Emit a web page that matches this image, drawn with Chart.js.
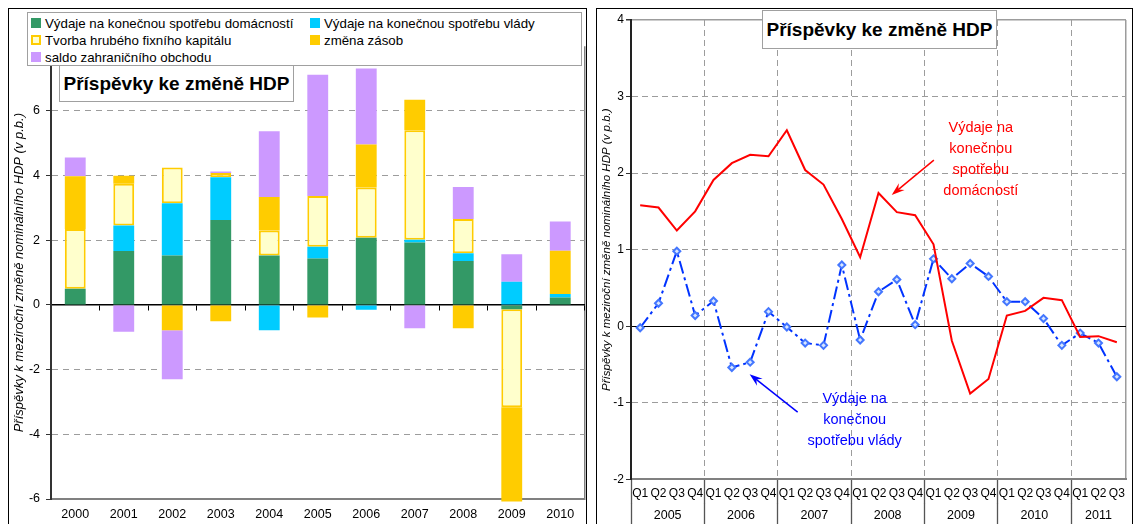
<!DOCTYPE html>
<html>
<head>
<meta charset="utf-8">
<script src="https://cdn.jsdelivr.net/npm/chart.js@4.4.1/dist/chart.umd.min.js"></script>
<style>
  html, body { margin: 0; padding: 0; background: #fff; overflow: hidden; }
  body { width: 1134px; height: 524px; position: relative; font-family: 'Liberation Sans', Arial, sans-serif; }
  .panel { position: absolute; border: 1px solid #000; box-sizing: border-box; background: #fff; }
  #leftPanel { left: 8px; top: 8px; width: 579px; height: 540px; }
  #rightPanel { left: 596px; top: 8px; width: 537px; height: 540px; }
  .panel canvas { position: absolute; left: 0; top: 0; }
  .box { position: absolute; border: 1px solid #a0a0a0; background: #fff; box-sizing: border-box; z-index: 2; }
  #legend { left: 27px; top: 12px; width: 555px; height: 54px; font-size: 13.3px; color: #000; }
  #legend .item { position: absolute; height: 17px; line-height: 17px; white-space: nowrap; }
  #legend .swatch { position: absolute; left: 0; top: 3px; width: 10px; height: 10px; box-sizing: border-box; }
  #legend .text { position: absolute; left: 14px; top: 0; }
  .titleBox { font-weight: bold; font-size: 19px; color: #000; display: flex; align-items: center; justify-content: center; }
  #leftTitle { left: 59px; top: 65px; width: 235px; height: 37px; }
  #rightTitle { left: 762px; top: 10px; width: 235px; height: 39px; }
</style>
</head>
<body>
<div class="panel" id="leftPanel"><canvas id="leftChart" width="577" height="530"></canvas></div>
<div class="panel" id="rightPanel"><canvas id="rightChart" width="535" height="530"></canvas></div>
<div class="box" id="legend"></div>
<div class="box titleBox" id="leftTitle">Příspěvky ke změně HDP</div>
<div class="box titleBox" id="rightTitle">Příspěvky ke změně HDP</div>
<script>
// left chart - annual contributions (p.b.)
const years = ['2000', '2001', '2002', '2003', '2004', '2005', '2006', '2007', '2008', '2009', '2010'];
const householdContrib = [0.50, 1.67, 1.53, 2.63, 1.53, 1.44, 2.08, 1.93, 1.36, -0.13, 0.23];
const governmentContrib = [0.00, 0.79, 1.62, 1.32, -0.78, 0.36, -0.15, 0.09, 0.24, 0.72, 0.11];
const fixedCapitalContrib = [1.85, 1.29, 1.10, 0.13, 0.77, 1.57, 1.55, 3.38, 1.06, -3.03, 0.00];
const inventoryContrib = [1.63, 0.25, -0.78, -0.50, 1.04, -0.39, 1.33, 0.95, -0.72, -2.92, 1.34];
const tradeContrib = [0.58, -0.83, -1.52, 0.05, 2.03, 3.75, 2.35, -0.72, 0.99, 0.85, 0.90];

// right chart - quarterly contributions
const yearNames = ['2005', '2006', '2007', '2008', '2009', '2010', '2011'];
const quartersPerYear = [4, 4, 4, 4, 4, 4, 3];
const quarterNames = ['Q1', 'Q2', 'Q3', 'Q4'];
const householdQuarterly = [1.58, 1.55, 1.25, 1.50, 1.91, 2.13, 2.24, 2.22, 2.56, 2.04, 1.85, 1.40,
    0.90, 1.74, 1.49, 1.45, 1.07, -0.19, -0.88, -0.69, 0.14, 0.20, 0.37, 0.34, -0.14, -0.13, -0.21];
const governmentQuarterly = [-0.02, 0.30, 0.98, 0.14, 0.33, -0.54, -0.47, 0.19, -0.01, -0.22, -0.25, 0.80,
    -0.18, 0.45, 0.61, 0.02, 0.88, 0.62, 0.82, 0.65, 0.32, 0.32, 0.10, -0.25, -0.09, -0.22, -0.66];

const axisTitle = 'Příspěvky k meziroční změně nominálního HDP (v p.b.)';
const NONE = 'rgba(0,0,0,0)';
const GRID = '#9c9c9c';

Chart.defaults.font.family = "'Liberation Sans', Arial, sans-serif";
Chart.defaults.color = '#000';

// ---------- left chart ----------
const barDatasets = [
    {label: 'Výdaje na konečnou spotřebu domácností', data: householdContrib, backgroundColor: '#339966', borderColor: '#339966', borderWidth: 0},
    {label: 'Výdaje na konečnou spotřebu vlády', data: governmentContrib, backgroundColor: '#00CCFF', borderColor: '#00CCFF', borderWidth: 0},
    {label: 'Tvorba hrubého fixního kapitálu', data: fixedCapitalContrib, backgroundColor: '#FFFFCC', borderColor: '#FFCC00', borderWidth: 2, borderSkipped: false},
    {label: 'změna zásob', data: inventoryContrib, backgroundColor: '#FFCC00', borderColor: '#FFCC00', borderWidth: 0},
    {label: 'saldo zahraničního obchodu', data: tradeContrib, backgroundColor: '#CC99FF', borderColor: '#CC99FF', borderWidth: 0}
];

const leftChart = new Chart(document.getElementById('leftChart'), {
    type: 'bar',
    data: {labels: years, datasets: barDatasets},
    options: {
        responsive: false,
        animation: false,
        layout: {padding: {left: 0, top: 37.3, right: 1.5, bottom: 0}},
        plugins: {legend: {display: false}, tooltip: {enabled: false}},
        datasets: {bar: {barPercentage: 0.43, categoryPercentage: 1, clip: 4}},
        scales: {
            x: {
                stacked: true,
                weight: 1,
                grid: {
                    drawTicks: false,
                    color: ctx => ctx.index === undefined ? '#808080' : NONE,
                    lineWidth: 1.5
                },
                border: {color: '#808080', width: 2},
                ticks: {padding: 8.5, font: {size: 12.5}, maxRotation: 0, autoSkip: false},
                afterFit: scale => { scale.height = 40; }
            },
            x2: {
                type: 'category',
                axis: 'x',
                position: {y: 0},
                offset: true,
                grid: {offset: true, drawOnChartArea: false, drawTicks: true, tickLength: 5, color: '#000'},
                border: {color: '#000', width: 1.5},
                ticks: {display: false}
            },
            y: {
                stacked: true,
                min: -6,
                max: 8,
                ticks: {stepSize: 2, padding: 6, font: {size: 12.5}, callback: v => v === 8 ? '' : v},
                grid: {
                    color: ctx => (ctx.tick && [0, -6, 8].indexOf(ctx.tick.value) < 0) ? GRID : NONE,
                    tickLength: 5,
                    tickColor: '#333'
                },
                border: {color: '#333', width: 2, dash: [6, 5]},
                title: {display: true, text: axisTitle, font: {size: 13, style: 'italic'}, padding: {top: 3, bottom: 0}},
                afterFit: scale => { scale.width = 42; }
            }
        }
    }
});

// legend in two columns, built from the datasets
const legendBox = document.getElementById('legend');
barDatasets.forEach((ds, i) => {
    const item = document.createElement('div');
    item.className = 'item';
    item.style.left = (i % 2 === 0 ? 3 : 282) + 'px';
    item.style.top = (1.5 + Math.floor(i / 2) * 17) + 'px';
    const sw = document.createElement('span');
    sw.className = 'swatch';
    sw.style.background = ds.backgroundColor;
    sw.style.border = ds.borderWidth ? '2px solid ' + ds.borderColor : '1px solid ' + ds.backgroundColor;
    const tx = document.createElement('span');
    tx.className = 'text';
    tx.textContent = ds.label;
    item.appendChild(sw);
    item.appendChild(tx);
    legendBox.appendChild(item);
});

// ---------- right chart ----------
const quarterLabels = [];
const yearBoundaries = [0];
const yearCenters = [];
quartersPerYear.forEach((n, yi) => {
    for (let q = 0; q < n; q++) quarterLabels.push(quarterNames[q]);
    const start = yearBoundaries[yearBoundaries.length - 1];
    yearCenters.push(start + n / 2);
    yearBoundaries.push(start + n);
});
const yearTickValues = yearBoundaries.concat(yearCenters).sort((a, b) => a - b);

const annotations = [
    {lines: ['Výdaje na', 'konečnou', 'spotřebu', 'domácností'], color: '#FF0000', x: 18.58, y: 2.59, from: [16.02, 2.17], to: [13.72, 1.715]},
    {lines: ['Výdaje na', 'konečnou', 'spotřebu vlády'], color: '#0000FF', x: 11.7, y: -0.954, from: [8.59, -1.123], to: [5.97, -0.627]}
];

const annotationPlugin = {
    id: 'arrowNotes',
    afterDatasetsDraw(chart) {
        const {ctx, scales} = chart;
        ctx.save();
        annotations.forEach(a => {
            ctx.fillStyle = a.color;
            ctx.strokeStyle = a.color;
            ctx.font = "14.5px 'Liberation Sans', Arial, sans-serif";
            ctx.textAlign = 'center';
            ctx.textBaseline = 'middle';
            const tx = scales.x.getPixelForValue(a.x);
            const ty = scales.y.getPixelForValue(a.y);
            a.lines.forEach((line, i) => ctx.fillText(line, tx, ty + i * 21));
            const x1 = scales.x.getPixelForValue(a.from[0]), y1 = scales.y.getPixelForValue(a.from[1]);
            const x2 = scales.x.getPixelForValue(a.to[0]), y2 = scales.y.getPixelForValue(a.to[1]);
            const ang = Math.atan2(y2 - y1, x2 - x1);
            const len = 13, half = 4.5;
            ctx.lineWidth = 1.5;
            ctx.beginPath();
            ctx.moveTo(x1, y1);
            ctx.lineTo(x2 - Math.cos(ang) * 8, y2 - Math.sin(ang) * 8);
            ctx.stroke();
            const bx = x2 - Math.cos(ang) * len, by = y2 - Math.sin(ang) * len;
            const nx = x2 - Math.cos(ang) * len * 0.65, ny = y2 - Math.sin(ang) * len * 0.65;
            ctx.beginPath();
            ctx.moveTo(x2, y2);
            ctx.lineTo(bx + Math.sin(ang) * half, by - Math.cos(ang) * half);
            ctx.lineTo(nx, ny);
            ctx.lineTo(bx - Math.sin(ang) * half, by + Math.cos(ang) * half);
            ctx.closePath();
            ctx.fill();
        });
        ctx.restore();
    }
};

const rightChart = new Chart(document.getElementById('rightChart'), {
    type: 'line',
    data: {
        labels: quarterLabels,
        datasets: [
            {label: 'Výdaje na konečnou spotřebu domácností', data: householdQuarterly, borderColor: '#FF0000', borderWidth: 2, pointRadius: 0, tension: 0},
            {label: 'Výdaje na konečnou spotřebu vlády', data: governmentQuarterly, borderColor: '#0033FF', borderWidth: 2, borderDash: [13, 4, 3, 4],
                pointStyle: 'rectRot', pointRadius: 3.5, pointBackgroundColor: '#d8e6ff', pointBorderColor: '#4477FF', pointBorderWidth: 2}
        ]
    },
    options: {
        responsive: false,
        animation: false,
        layout: {padding: {left: 0, top: 11, right: 1.5, bottom: 0}},
        plugins: {legend: {display: false}, tooltip: {enabled: false}},
        scales: {
            x: {
                type: 'category',
                weight: 1,
                offset: true,
                grid: {
                    offset: true,
                    tickLength: 24,
                    color: ctx => ctx.index === undefined ? GRID : (ctx.index > 0 && yearBoundaries.indexOf(ctx.index) >= 0 ? GRID : NONE),
                    tickColor: ctx => (ctx.index !== undefined && yearBoundaries.indexOf(ctx.index) >= 0) ? '#555' : NONE,
                    lineWidth: ctx => ctx.index === undefined ? 1.5 : 1,
                    tickWidth: 1.3
                },
                border: {color: '#808080', width: 2, dash: ctx => ctx.index === undefined ? [] : [6, 4]},
                ticks: {padding: -16.8, font: {size: 12}, autoSkip: false, maxRotation: 0},
                afterFit: scale => { scale.height = 24; }
            },
            x2: {
                type: 'linear',
                axis: 'x',
                position: 'bottom',
                weight: 2,
                min: 0,
                max: quarterLabels.length,
                afterBuildTicks: scale => { scale.ticks = yearTickValues.map(v => ({value: v})); },
                ticks: {
                    autoSkip: false, maxRotation: 0, padding: -24.8, font: {size: 12.5},
                    callback: v => { const i = yearCenters.indexOf(v); return i >= 0 ? yearNames[i] : ''; }
                },
                grid: {
                    drawOnChartArea: false,
                    tickLength: 30,
                    color: ctx => (ctx.tick && yearBoundaries.indexOf(ctx.tick.value) >= 0 && ctx.tick.value < quarterLabels.length) ? '#555' : NONE,
                    tickWidth: 1.3
                },
                border: {display: false},
                afterFit: scale => { scale.height = 35.7; }
            },
            y: {
                min: -2,
                max: 4,
                ticks: {stepSize: 1, padding: 2, font: {size: 12}},
                grid: {
                    color: ctx => {
                        if (!ctx.tick) return NONE;
                        if (ctx.tick.value === 0) return '#000';
                        if (ctx.tick.value === -2) return NONE;
                        return GRID;
                    },
                    lineWidth: ctx => ctx.tick && ctx.tick.value === 4 ? 1.5 : 1,
                    tickLength: 5,
                    tickColor: '#333'
                },
                border: {color: '#222', width: 2, dash: ctx => (ctx.tick && (ctx.tick.value === 0 || ctx.tick.value === 4)) ? [] : [6, 4]},
                title: {display: true, text: axisTitle, font: {size: 11.5, style: 'italic'}, padding: {top: 3, bottom: 0}},
                afterFit: scale => { scale.width = 34; }
            }
        }
    },
    plugins: [annotationPlugin]
});
</script>
</body>
</html>
